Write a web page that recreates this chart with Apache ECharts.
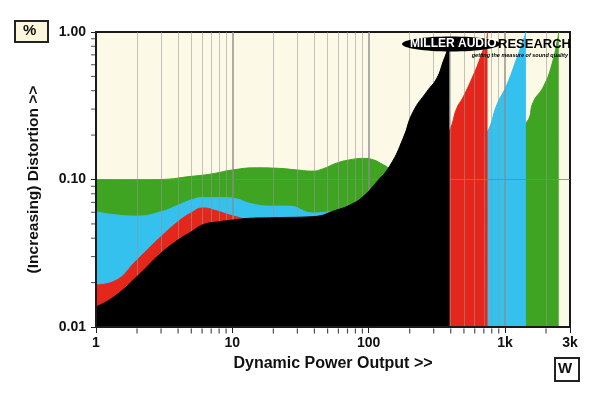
<!DOCTYPE html>
<html><head><meta charset="utf-8">
<script src="https://cdn.jsdelivr.net/npm/echarts@6/dist/echarts.min.js"></script>
<style>html,body{margin:0;padding:0;background:#fff}#c{width:600px;height:393px}</style>
</head><body><div id="c"></div>
<script>
// ---- data (power in W, distortion in %) ----
const blackPts = [[1,0.0137],[1.34,0.0159],[2,0.022],[3,0.0317],[4,0.0389],[5,0.0442],[6.1,0.0494],[8.1,0.0518],[10.2,0.0532],[13.5,0.0546],[20,0.0551],[39,0.056],[58,0.062],[75,0.068],[91,0.0766],[115,0.0966],[144,0.125],[179,0.19],[212,0.288],[267,0.394],[316,0.485],[352,0.63],[383,0.78],[392,0.85]];
const redPts = [[1,0.0193],[1.34,0.0203],[2,0.0285],[3,0.041],[4,0.0518],[5,0.0595],[6.1,0.0641],[7.7,0.0612],[9.6,0.0574],[11.6,0.0546],[15,0.05],[30,0.047],[60,0.05],[100,0.06],[200,0.1],[300,0.15],[391,0.215],[443,0.304],[495,0.364],[587,0.511],[657,0.663],[735,0.906],[745,1.0]];
const bluePts = [[1,0.0605],[1.34,0.0578],[2,0.0565],[3,0.0605],[4,0.067],[5,0.0728],[6.1,0.0754],[8.6,0.0754],[10.2,0.0745],[14.2,0.0681],[20,0.066],[26,0.066],[39,0.0593],[58,0.0605],[80,0.058],[150,0.07],[300,0.1],[500,0.14],[650,0.18],[756,0.217],[871,0.32],[1031,0.437],[1221,0.663],[1403,0.95],[1425,1.0]];
const greenPts = [[1,0.1],[2,0.0995],[3,0.1],[5,0.105],[7,0.109],[10,0.116],[15,0.12],[22,0.119],[30,0.116],[39,0.114],[46,0.118],[58,0.129],[73,0.136],[91,0.139],[108,0.136],[128,0.126],[150,0.118],[250,0.14],[500,0.17],[800,0.19],[1100,0.21],[1445,0.245],[1616,0.337],[1914,0.426],[2204,0.598],[2466,0.95],[2480,1.0]];

// ---- axes / ticks ----
const xMin = 1, xMax = 3000, yMin = 0.01, yMax = 1;
const xTickNames = {1:'1', 10:'10', 100:'100', 1000:'1k', 3000:'3k'};
const xGridMinor = [2,3,4,5,6,7,8,9,20,30,40,50,60,70,80,90,200,300,400,500,600,700,800,900,2000];
const xGridMajor = [10,100,1000];
const yGrid = [0.1];
const yMinorTicks = [0.02,0.03,0.04,0.05,0.06,0.07,0.08,0.09,0.2,0.3,0.4,0.5,0.6,0.7,0.8,0.9];

const chart = echarts.init(document.getElementById('c'), null, {renderer:'canvas'});
const FONT = '"Liberation Sans", Arial, sans-serif';

function area(name, pts, color, z){
  return {type:'line', name, data:pts, smooth:0.5, symbol:'none',
    lineStyle:{color, width:1}, areaStyle:{color, opacity:1, origin:'start'},
    z, silent:true, animation:false, clip:true};
}

const gridLineData = []
  .concat(xGridMinor.map(v => ({xAxis:v})))
  .concat(xGridMajor.map(v => ({xAxis:v, lineStyle:{width:2, color:'rgba(140,140,140,0.7)'}})))
  .concat(yGrid.map(v => ({yAxis:v, lineStyle:{width:1.2, color:'rgba(130,130,130,0.8)'}})));

chart.setOption({
  animation:false,
  backgroundColor:'#ffffff',
  grid:{left:96, right:30, top:32, bottom:66, show:true, backgroundColor:'#fcf9e6', borderColor:'#1a1a1a', borderWidth:2},
  xAxis:{type:'log', logBase:10, min:xMin, max:xMax, z:10,
    name:'Dynamic Power Output >>', nameLocation:'middle', nameGap:29,
    nameTextStyle:{fontFamily:FONT, fontWeight:'bold', fontSize:16, color:'#111'},
    axisLine:{show:true, lineStyle:{color:'#1a1a1a', width:2}},
    axisTick:{show:true, length:6, lineStyle:{color:'#222', width:1}},
    splitLine:{show:false},
    axisLabel:{fontFamily:FONT, fontWeight:'bold', fontSize:14, color:'#111', margin:9,
      formatter: v => { const k = Math.round(v); return xTickNames[k] !== undefined ? xTickNames[k] : ''; }}
  },
  yAxis:{type:'log', logBase:10, min:yMin, max:yMax, z:10,
    name:'(Increasing) Distortion >>', nameLocation:'middle', nameGap:54, nameRotate:90,
    nameTextStyle:{fontFamily:FONT, fontWeight:'bold', fontSize:15.5, color:'#111'},
    axisLine:{show:true, lineStyle:{color:'#1a1a1a', width:2}},
    axisTick:{show:true, length:5, lineStyle:{color:'#222', width:1}},
    splitLine:{show:false},
    axisLabel:{fontFamily:FONT, fontWeight:'bold', fontSize:14, color:'#111', margin:10,
      formatter: v => Number(v).toFixed(2)}
  },
  series:[
    area('green', greenPts, '#3fa422', 2),
    area('blue', bluePts, '#35c1ee', 3),
    area('red', redPts, '#e5271b', 4),
    area('black', blackPts, '#000000', 5),
    {type:'line', data:[], z:8, silent:true, symbol:'none',
      markLine:{silent:true, symbol:'none', animation:false, label:{show:false},
        lineStyle:{type:'solid', width:1, color:'rgba(150,150,150,0.55)'},
        data:gridLineData}},
    {type:'scatter', data:xGridMinor.map(v => [v, yMin]), symbol:'rect', symbolSize:[1.2,5], symbolOffset:[0,4],
      itemStyle:{color:'#222'}, clip:false, z:11, silent:true},
    {type:'scatter', data:yMinorTicks.map(v => [xMin, v]), symbol:'rect', symbolSize:[4,1], symbolOffset:[-3,0],
      itemStyle:{color:'#222'}, clip:false, z:11, silent:true}
  ],
  graphic:[
    {type:'rect', left:14, top:20, shape:{width:33, height:21}, style:{fill:'#fcf7dc', stroke:'#222', lineWidth:2}, z:20},
    {type:'text', left:23, top:23, style:{text:'%', font:'bold 15px '+FONT, fill:'#111'}, z:21},
    {type:'rect', left:554, top:357, shape:{width:24, height:23}, style:{fill:'#ffffff', stroke:'#222', lineWidth:2}, z:20},
    {type:'text', left:558, top:361, style:{text:'W', font:'bold 15px '+FONT, fill:'#111'}, z:21},
    {type:'ellipse', shape:{cx:451, cy:44, rx:49, ry:7.5}, style:{fill:'#000'}, z:20},
    {type:'text', x:410, y:44, style:{text:'MILLER AUDIO', font:'bold 12px '+FONT, fill:'#fff', verticalAlign:'middle'}, z:21},
    {type:'text', x:498, y:44, style:{text:'RESEARCH', font:'bold 13px '+FONT, fill:'#000', verticalAlign:'middle'}, z:21},
    {type:'text', x:568, y:55, style:{text:'getting the measure of sound quality', font:'italic bold 5.5px '+FONT, fill:'#000', align:'right', verticalAlign:'middle'}, z:21}
  ]
});
</script></body></html>
